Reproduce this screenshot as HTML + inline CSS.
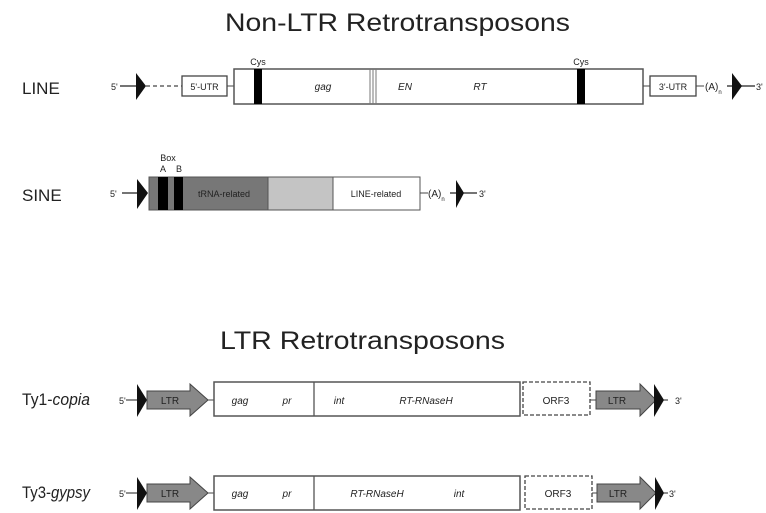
<!DOCTYPE html>
<html><head><meta charset="utf-8"><style>
html,body{margin:0;padding:0;background:#fff}
svg{display:block}
text{font-family:"Liberation Sans",Arial,sans-serif;fill:#222}
.i{font-style:italic}
</style></head><body>
<svg width="766" height="513" viewBox="0 0 766 513" xmlns="http://www.w3.org/2000/svg">
<text x="225" y="31" font-size="25" textLength="345" lengthAdjust="spacingAndGlyphs">Non-LTR Retrotransposons</text>
<text x="220" y="349" font-size="25" textLength="285" lengthAdjust="spacingAndGlyphs">LTR Retrotransposons</text>

<!-- LINE -->
<text x="22" y="94" font-size="17">LINE</text>
<text x="111" y="90" font-size="9">5'</text>
<line x1="120" y1="86" x2="140" y2="86" stroke="#222" stroke-width="1.2"/>
<polygon points="136,73 146,86 136,100" fill="#111"/>
<line x1="146" y1="86" x2="182" y2="86" stroke="#444" stroke-width="1.2" stroke-dasharray="4,3"/>
<rect x="182" y="76" width="45" height="20" fill="#fff" stroke="#444" stroke-width="1.3"/>
<text x="204.5" y="90" font-size="9" text-anchor="middle">5'-UTR</text>
<line x1="227" y1="86" x2="234" y2="86" stroke="#444"/>
<rect x="234" y="69" width="409" height="35" fill="#fff" stroke="#555" stroke-width="1.5"/>
<rect x="254" y="69" width="8" height="35" fill="#000"/>
<text x="258" y="65" font-size="9" text-anchor="middle">Cys</text>
<line x1="370" y1="69" x2="370" y2="104" stroke="#777"/>
<line x1="373" y1="69" x2="373" y2="104" stroke="#777"/>
<line x1="376" y1="69" x2="376" y2="104" stroke="#777"/>
<text x="323" y="90" font-size="10" class="i" text-anchor="middle">gag</text>
<text x="405" y="90" font-size="10" class="i" text-anchor="middle">EN</text>
<text x="480" y="90" font-size="10" class="i" text-anchor="middle">RT</text>
<rect x="577" y="69" width="8" height="35" fill="#000"/>
<text x="581" y="65" font-size="9" text-anchor="middle">Cys</text>
<line x1="643" y1="86" x2="650" y2="86" stroke="#444"/>
<rect x="650" y="76" width="46" height="20" fill="#fff" stroke="#444" stroke-width="1.3"/>
<text x="673" y="90" font-size="9" text-anchor="middle">3'-UTR</text>
<line x1="696" y1="86" x2="704" y2="86" stroke="#444"/>
<text x="705" y="90" font-size="10">(A)<tspan font-size="6" dy="4">n</tspan></text>
<line x1="727" y1="86" x2="755" y2="86" stroke="#222" stroke-width="1.2"/>
<polygon points="732,73 742,86 732,100" fill="#111"/>
<text x="756" y="90" font-size="9">3'</text>

<!-- SINE -->
<text x="22" y="201" font-size="17">SINE</text>
<text x="110" y="197" font-size="9">5'</text>
<line x1="122" y1="193" x2="140" y2="193" stroke="#222" stroke-width="1.2"/>
<polygon points="137,179 148,193 137,209" fill="#111"/>
<rect x="149" y="177" width="119" height="33" fill="#777" stroke="#555"/>
<rect x="268" y="177" width="65" height="33" fill="#c4c4c4" stroke="#555"/>
<rect x="333" y="177" width="87" height="33" fill="#fff" stroke="#555"/>
<rect x="158" y="177" width="10" height="33" fill="#000"/>
<rect x="174" y="177" width="9" height="33" fill="#000"/>
<text x="168" y="161" font-size="9" text-anchor="middle">Box</text>
<text x="163" y="172" font-size="9" text-anchor="middle">A</text>
<text x="179" y="172" font-size="9" text-anchor="middle">B</text>
<text x="224" y="197" font-size="9" text-anchor="middle" fill="#333">tRNA-related</text>
<text x="376" y="197" font-size="9" text-anchor="middle">LINE-related</text>
<line x1="420" y1="193" x2="428" y2="193" stroke="#444"/>
<text x="428" y="197" font-size="10">(A)<tspan font-size="6" dy="4">n</tspan></text>
<line x1="450" y1="193" x2="477" y2="193" stroke="#222" stroke-width="1.2"/>
<polygon points="456,180 464,193 456,208" fill="#111"/>
<text x="479" y="197" font-size="9">3'</text>

<!-- Ty1-copia -->
<text x="22" y="405" font-size="17" textLength="68" lengthAdjust="spacingAndGlyphs">Ty1-<tspan class="i">copia</tspan></text>
<text x="119" y="404" font-size="9">5'</text>
<line x1="126" y1="400" x2="140" y2="400" stroke="#222"/>
<polygon points="137,384 147,400 137,417" fill="#111"/>
<polygon points="147,391 190,391 190,384 208,400 190,416 190,409 147,409" fill="#888" stroke="#444" stroke-width="1"/>
<text x="170" y="404" font-size="10" text-anchor="middle">LTR</text>
<line x1="208" y1="400" x2="214" y2="400" stroke="#444"/>
<rect x="214" y="382" width="306" height="34" fill="#fff" stroke="#555" stroke-width="1.5"/>
<line x1="314" y1="382" x2="314" y2="416" stroke="#555" stroke-width="1.3"/>
<text x="240" y="404" font-size="10" class="i" text-anchor="middle">gag</text>
<text x="287" y="404" font-size="10" class="i" text-anchor="middle">pr</text>
<text x="339" y="404" font-size="10" class="i" text-anchor="middle">int</text>
<text x="426" y="404" font-size="10" class="i" text-anchor="middle">RT-RNaseH</text>
<rect x="523" y="382" width="67" height="33" fill="#fff" stroke="#444" stroke-width="1.3" stroke-dasharray="4,2"/>
<text x="556" y="404" font-size="10" text-anchor="middle">ORF3</text>
<line x1="590" y1="400" x2="596" y2="400" stroke="#444"/>
<polygon points="596,391 640,391 640,384 656,400 640,416 640,409 596,409" fill="#888" stroke="#444" stroke-width="1"/>
<text x="617" y="404" font-size="10" text-anchor="middle">LTR</text>
<line x1="656" y1="400" x2="668" y2="400" stroke="#222"/>
<polygon points="654,384 664,400 654,417" fill="#111"/>
<text x="675" y="404" font-size="9">3'</text>

<!-- Ty3-gypsy -->
<text x="22" y="498" font-size="17" textLength="68" lengthAdjust="spacingAndGlyphs">Ty3-<tspan class="i">gypsy</tspan></text>
<text x="119" y="497" font-size="9">5'</text>
<line x1="126" y1="493" x2="140" y2="493" stroke="#222"/>
<polygon points="137,477 147,493 137,510" fill="#111"/>
<polygon points="147,484 190,484 190,477 208,493 190,509 190,502 147,502" fill="#888" stroke="#444" stroke-width="1"/>
<text x="170" y="497" font-size="10" text-anchor="middle">LTR</text>
<line x1="208" y1="493" x2="214" y2="493" stroke="#444"/>
<rect x="214" y="476" width="306" height="34" fill="#fff" stroke="#555" stroke-width="1.5"/>
<line x1="314" y1="476" x2="314" y2="510" stroke="#555" stroke-width="1.3"/>
<text x="240" y="497" font-size="10" class="i" text-anchor="middle">gag</text>
<text x="287" y="497" font-size="10" class="i" text-anchor="middle">pr</text>
<text x="377" y="497" font-size="10" class="i" text-anchor="middle">RT-RNaseH</text>
<text x="459" y="497" font-size="10" class="i" text-anchor="middle">int</text>
<rect x="525" y="476" width="67" height="33" fill="#fff" stroke="#444" stroke-width="1.3" stroke-dasharray="4,2"/>
<text x="558" y="497" font-size="10" text-anchor="middle">ORF3</text>
<line x1="592" y1="493" x2="597" y2="493" stroke="#444"/>
<polygon points="597,484 640,484 640,477 656,493 640,509 640,502 597,502" fill="#888" stroke="#444" stroke-width="1"/>
<text x="618" y="497" font-size="10" text-anchor="middle">LTR</text>
<line x1="656" y1="493" x2="668" y2="493" stroke="#222"/>
<polygon points="655,477 664,493 655,510" fill="#111"/>
<text x="669" y="497" font-size="9">3'</text>
</svg>
</body></html>
